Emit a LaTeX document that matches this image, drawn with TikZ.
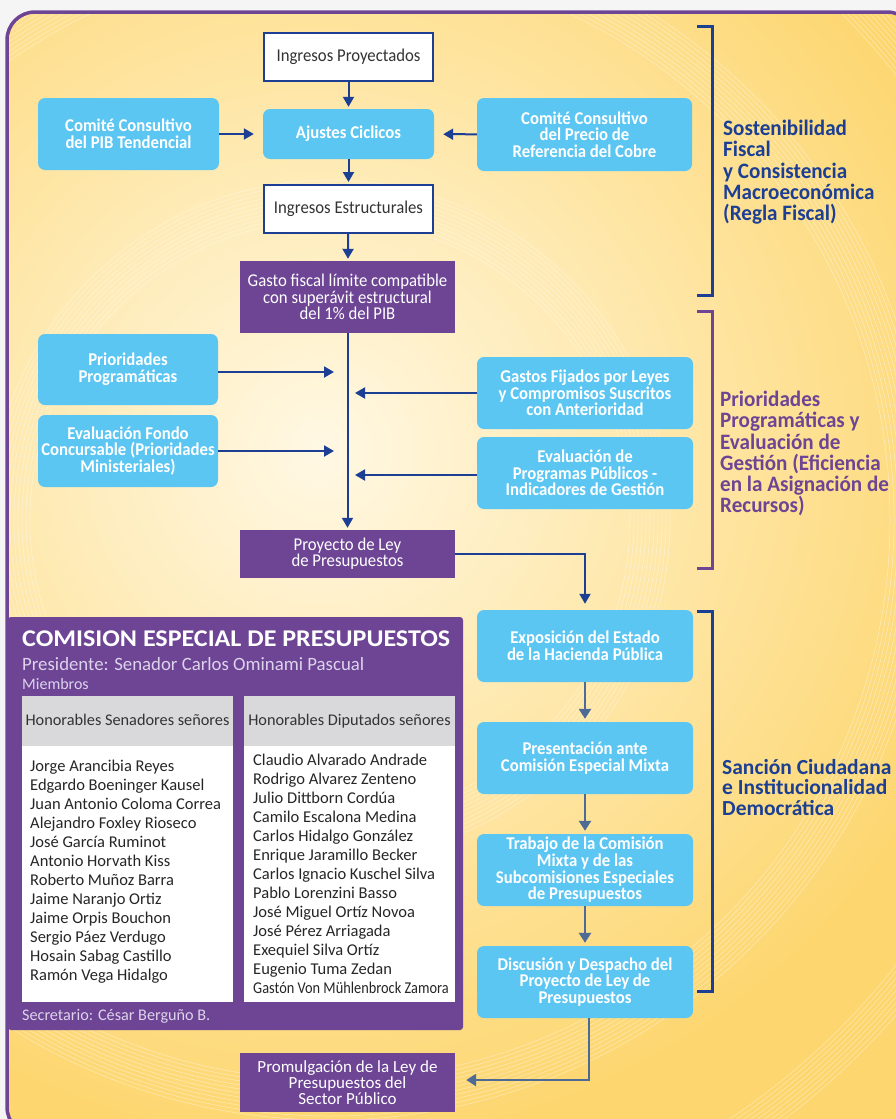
\documentclass[tikz,border=0pt]{standalone}
\usepackage{fontspec}
\setmainfont{Carlito}
\newfontfamily\cond[FakeStretch=0.93]{Carlito}
\newfontfamily\condb[FakeStretch=0.87]{Carlito}
\newfontfamily\brfont[FakeStretch=0.96]{Carlito}
\newfontfamily\wide[FakeStretch=1.085]{Carlito}
\usetikzlibrary{arrows.meta}
\definecolor{lblue}{HTML}{5CC6F3}
\definecolor{purp}{HTML}{6D4594}
\definecolor{dblue}{HTML}{1C3F94}
\definecolor{slate}{HTML}{4D6B94}
\definecolor{bgY}{HTML}{FDD66F}
\definecolor{bgC}{HTML}{FFF8E4}
\definecolor{lav}{HTML}{DDD3EC}
\definecolor{hgrey}{HTML}{D9D9DB}
\begin{document}
\begin{tikzpicture}[x=1pt,y=-1pt,
  wbox/.style={draw=dblue, line width=2pt, fill=white, minimum width=169, minimum height=48, inner sep=0,
    font=\cond\fontsize{18}{17}\selectfont, text=black!80},
  bbox/.style={fill=lblue, rounded corners=7pt, text=white, align=center, inner sep=0,
    font=\cond\bfseries\fontsize{18}{16.7}\selectfont},
  pbox/.style={fill=purp, text=white, align=center, inner sep=0,
    font=\cond\fontsize{18}{16.2}\selectfont},
  barrow/.style={draw=dblue, line width=2pt, -{Triangle[length=10pt,width=11pt]}},
  sarrow/.style={draw=slate, line width=2.5pt, -{Triangle[length=10pt,width=12pt]}},
  brk/.style={line width=3pt},
  brtext/.style={anchor=north west, align=left, inner sep=0, font=\brfont\bfseries\fontsize{22}{21.2}\selectfont},
  nm/.style={anchor=base west, inner sep=0, text=black!85, font=\fontsize{16.5}{19}\selectfont}
]
\useasboundingbox (0,0) rectangle (896,1119);
\clip (0,0) rectangle (896,1119);
\fill[black!4] (0,0) rectangle (896,1119);
% background frame
\begin{scope}
\clip[rounded corners=28pt] (7,12) rectangle (915,1135);
\fill[bgY] (0,0) rectangle (896,1119);
\shade[inner color=bgC, outer color=bgY] (320,450) circle[radius=700pt];
\foreach \r in {300,304,...,340} {\draw[white, opacity=0.45, line width=0.5pt] (330,520) circle[radius=\r pt];}
\foreach \r in {560,564,...,600} {\draw[white, opacity=0.45, line width=0.5pt] (330,520) circle[radius=\r pt];}
\foreach \r in {720,724,...,752} {\draw[white, opacity=0.45, line width=0.5pt] (330,520) circle[radius=\r pt];}
\end{scope}
\draw[purp, line width=3.5pt, rounded corners=28pt] (7,12) rectangle (915,1135);

% top section
\node[wbox] (ip) at (348.5,57) {Ingresos Proyectados};
\node[bbox, minimum width=181, minimum height=72] (pib) at (128.5,134) {Comité Consultivo\\del PIB Tendencial};
\node[bbox, minimum width=171, minimum height=50] (aj) at (348.5,134) {Ajustes Ciclicos};
\node[bbox, minimum width=215, minimum height=73] (cobre) at (584.5,134.5) {Comité Consultivo\\del Precio de\\Referencia del Cobre};
\node[wbox] (ie) at (348.5,209) {Ingresos Estructurales};
\node[pbox, minimum width=215, minimum height=72] (gasto) at (347.5,297) {Gasto fiscal límite compatible\\con superávit estructural\\del 1\% del PIB};

\draw[barrow, shorten >=2pt] (ip) -- (aj);
\draw[barrow, shorten >=9pt] (pib) -- (aj);
\draw[barrow, shorten >=9pt] (cobre) -- (aj);
\draw[barrow, shorten >=2pt] (aj) -- (ie);
\draw[barrow, shorten >=2pt] (ie) -- (gasto);

% middle section
\node[bbox, minimum width=180, minimum height=71] (prio) at (128,369.5) {Prioridades\\Programáticas};
\node[bbox, minimum width=180, minimum height=72] (efc) at (128,451) {Evaluación Fondo\\Concursable (Prioridades\\Ministeriales)};
\node[bbox, minimum width=216, minimum height=72] (gfl) at (585,393) {Gastos Fijados por Leyes\\y Compromisos Suscritos\\con Anterioridad};
\node[bbox, minimum width=216, minimum height=72] (epp) at (585,473) {Evaluación de\\Programas Públicos -\\Indicadores de Gestión};
\node[pbox, minimum width=215, minimum height=48] (pley) at (347.5,554) {Proyecto de Ley\\de Presupuestos};

\coordinate (jl) at (334,0);
\coordinate (jr) at (355,0);
\draw[barrow, shorten >=2pt] (gasto) -- (pley);
\draw[barrow] ([yshift=-2.5pt]prio.east) -- ([yshift=-2.5pt]prio.east -| jl);
\draw[barrow] (efc.east) -- (efc.east -| jl);
\draw[barrow] (gfl.west) -- (gfl.west -| jr);
\draw[barrow] ([yshift=-2pt]epp.west) -- ([yshift=-2pt]epp.west -| jr);

% bottom right flow
\node[bbox, minimum width=216, minimum height=72] (expo) at (585,646) {Exposición del Estado\\de la Hacienda Pública};
\node[bbox, minimum width=216, minimum height=72] (pres) at (585,758) {Presentación ante\\Comisión Especial Mixta};
\node[bbox, minimum width=216, minimum height=72] (trab) at (585,870) {Trabajo de la Comisión\\Mixta y de las\\Subcomisiones Especiales\\de Presupuestos};
\node[bbox, minimum width=216, minimum height=72] (disc) at (585,982) {Discusión y Despacho del\\Proyecto de Ley de\\Presupuestos};
\node[pbox, minimum width=215, minimum height=59, font=\fontsize{17}{16.3}\selectfont] (prom) at (347.5,1082.5) {Promulgación de la Ley de\\Presupuestos del\\Sector Público};

\draw[barrow, shorten >=6pt] (pley.east) -| (expo.north);
\draw[sarrow, shorten >=3pt] (expo) -- (pres);
\draw[sarrow, shorten >=3pt] (pres) -- (trab);
\draw[sarrow, shorten >=3pt] (trab) -- (disc);
\coordinate (cnr) at (589,1080);
\draw[sarrow, shorten >=11pt] (disc.south -| cnr) -- (cnr) -- (cnr -| prom.east);

% brackets
\draw[dblue, brk] (697,26) -- (712,26) -- (712,295) -- (697,295);
\draw[purp, brk] (697,311) -- (712,311) -- (712,568) -- (697,568);
\draw[dblue, brk] (697,611) -- (712,611) -- (712,991) -- (697,991);
\node[brtext, text=dblue] (t1) at (723,120) {Sostenibilidad\\Fiscal\\y Consistencia\\Macroeconómica\\(Regla Fiscal)};
\node[brtext, text=purp] (t2) at (720,391) {Prioridades\\Programáticas y\\Evaluación de\\Gestión (Eficiencia\\en la Asignación de\\Recursos)};
\node[brtext, text=dblue, font=\bfseries\fontsize{21.5}{20.5}\selectfont] (t3) at (722,759) {Sanción Ciudadana\\e Institucionalidad\\Democrática};

% commission box
\node[fill=purp, rounded corners=3pt, minimum width=455, minimum height=413, inner sep=0] (com) at (235.5,823.5) {};
\node[anchor=base west, inner sep=0, text=white, font=\wide\bfseries\fontsize{24}{26}\selectfont] (ctitle) at (22,646) {COMISION ESPECIAL DE PRESUPUESTOS};
\node[anchor=base west, inner sep=0, text=lav, font=\fontsize{18.8}{20}\selectfont] (cpres) at (22,670) {Presidente: Senador Carlos Ominami Pascual};
\node[anchor=base west, inner sep=0, text=lav, font=\fontsize{16}{18}\selectfont] (cmiem) at (22,689) {Miembros};
\node[fill=white, minimum width=211, minimum height=306, inner sep=0] (lbox) at (127.5,849) {};
\node[fill=white, minimum width=211, minimum height=306, inner sep=0] (rbox) at (349.5,849) {};
\node[fill=hgrey, minimum width=211, minimum height=50, inner sep=0, text=black!80, font=\fontsize{16.3}{18}\selectfont] (lhead) at (127.5,721) {\raisebox{2pt}{Honorables Senadores señores}};
\node[fill=hgrey, minimum width=211, minimum height=50, inner sep=0, text=black!80, font=\fontsize{16.3}{18}\selectfont] (rhead) at (349.5,721) {\raisebox{2pt}{Honorables Diputados señores}};
\foreach \n [count=\i] in {Jorge Arancibia Reyes, Edgardo Boeninger Kausel, Juan Antonio Coloma Correa, Alejandro Foxley Rioseco, José García Ruminot, Antonio Horvath Kiss, Roberto Muñoz Barra, Jaime Naranjo Ortiz, Jaime Orpis Bouchon, Sergio Páez Verdugo, Hosain Sabag Castillo, Ramón Vega Hidalgo}
  {\node[nm] (ln\i) at (30,{771+19*(\i-1)}) {\n};}
\foreach \n [count=\i] in {Claudio Alvarado Andrade, Rodrigo Alvarez Zenteno, Julio Dittborn Cordúa, Camilo Escalona Medina, Carlos Hidalgo González, Enrique Jaramillo Becker, Carlos Ignacio Kuschel Silva, Pablo Lorenzini Basso, José Miguel Ortíz Novoa, José Pérez Arriagada, Exequiel Silva Ortíz, Eugenio Tuma Zedan}
  {\node[nm] (rn\i) at (253,{765+19*(\i-1)}) {\n};}
\node[nm, font=\condb\fontsize{16.5}{19}\selectfont] (rn13) at (253,993) {Gastón Von Mühlenbrock Zamora};
\node[anchor=base west, inner sep=0, text=lav, font=\fontsize{16.2}{18}\selectfont] (csec) at (22,1020) {Secretario: César Berguño B.};
\end{tikzpicture}
\end{document}
